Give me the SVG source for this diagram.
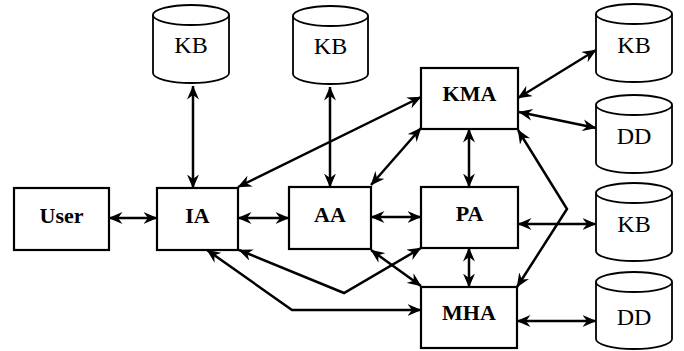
<svg xmlns="http://www.w3.org/2000/svg" width="684" height="351" viewBox="0 0 684 351">
<style>
.box{fill:#fff;stroke:#000;stroke-width:2.2}
.cyl{fill:#fff;stroke:#000;stroke-width:1.8}
.bl{font-family:'Liberation Serif','Times New Roman',serif;font-weight:bold;font-size:22px;text-anchor:middle;fill:#000}
.cl{font-family:'Liberation Serif','Times New Roman',serif;font-size:24px;text-anchor:middle;fill:#000}
.c{fill:none;stroke:#000;stroke-width:2.5;marker-start:url(#a);marker-end:url(#a)}
</style>
<defs>
<marker id="a" viewBox="0 0 14 12" refX="13.5" refY="6" markerWidth="14" markerHeight="12" markerUnits="userSpaceOnUse" orient="auto-start-reverse">
<path d="M0,0 L14,6 L0,12 L4.5,6 z" fill="#000"/>
</marker>
</defs>
<g id="connectors">
<line class="c" x1="109" y1="218" x2="157" y2="218"/>
<line class="c" x1="238" y1="218" x2="289" y2="218"/>
<line class="c" x1="371" y1="217" x2="421" y2="217"/>
<line class="c" x1="193" y1="86" x2="193" y2="188"/>
<line class="c" x1="330" y1="87" x2="330" y2="187"/>
<line class="c" x1="238" y1="187" x2="421" y2="97"/>
<line class="c" x1="371" y1="185" x2="421" y2="128"/>
<line class="c" x1="469" y1="129" x2="469" y2="187"/>
<line class="c" x1="518" y1="98" x2="596" y2="50"/>
<line class="c" x1="519" y1="112" x2="596" y2="128"/>
<polyline class="c" points="518,130 567,209 517,287"/>
<line class="c" x1="518" y1="224" x2="596" y2="224"/>
<line class="c" x1="469" y1="248" x2="469" y2="287"/>
<line class="c" x1="517" y1="321" x2="596" y2="321"/>
<line class="c" x1="371" y1="250" x2="421" y2="286"/>
<polyline class="c" points="421,248 344,293 239,250"/>
<polyline class="c" points="207,250 292,310 421,310"/>
</g>
<g id="user"><rect class="box" x="14" y="188" width="95" height="62"/><text class="bl" x="61.5" y="223">User</text></g>
<g id="ia"><rect class="box" x="157" y="188" width="81" height="62"/><text class="bl" x="197.5" y="223">IA</text></g>
<g id="aa"><rect class="box" x="289" y="187" width="82" height="62"/><text class="bl" x="330" y="222">AA</text></g>
<g id="pa"><rect class="box" x="421" y="187" width="97" height="61"/><text class="bl" x="469.5" y="221">PA</text></g>
<g id="kma"><rect class="box" x="421" y="68" width="97" height="61"/><text class="bl" x="469.5" y="101">KMA</text></g>
<g id="mha"><rect class="box" x="421" y="287" width="96" height="61"/><text class="bl" x="469" y="320">MHA</text></g>
<g id="kb1"><path class="cyl" d="M153,15 V73 A38,10 0 0 0 229,73 V15"/><ellipse class="cyl" cx="191" cy="15" rx="38" ry="10"/><text class="cl" x="191" y="53">KB</text></g>
<g id="kb2"><path class="cyl" d="M293,16 V74 A37.5,10 0 0 0 368,74 V16"/><ellipse class="cyl" cx="330.5" cy="16" rx="37.5" ry="10"/><text class="cl" x="330.5" y="54">KB</text></g>
<g id="kb3"><path class="cyl" d="M596,14 V72 A38,10 0 0 0 672,72 V14"/><ellipse class="cyl" cx="634" cy="14" rx="38" ry="10"/><text class="cl" x="634" y="53">KB</text></g>
<g id="dd1"><path class="cyl" d="M596,105 V163 A38,10 0 0 0 672,163 V105"/><ellipse class="cyl" cx="634" cy="105" rx="38" ry="10"/><text class="cl" x="634" y="144">DD</text></g>
<g id="kb4"><path class="cyl" d="M596,193 V251 A38,10 0 0 0 672,251 V193"/><ellipse class="cyl" cx="634" cy="193" rx="38" ry="10"/><text class="cl" x="634" y="232">KB</text></g>
<g id="dd2"><path class="cyl" d="M596,282 V339 A38,10 0 0 0 672,339 V282"/><ellipse class="cyl" cx="634" cy="282" rx="38" ry="10"/><text class="cl" x="634" y="325">DD</text></g>
</svg>
